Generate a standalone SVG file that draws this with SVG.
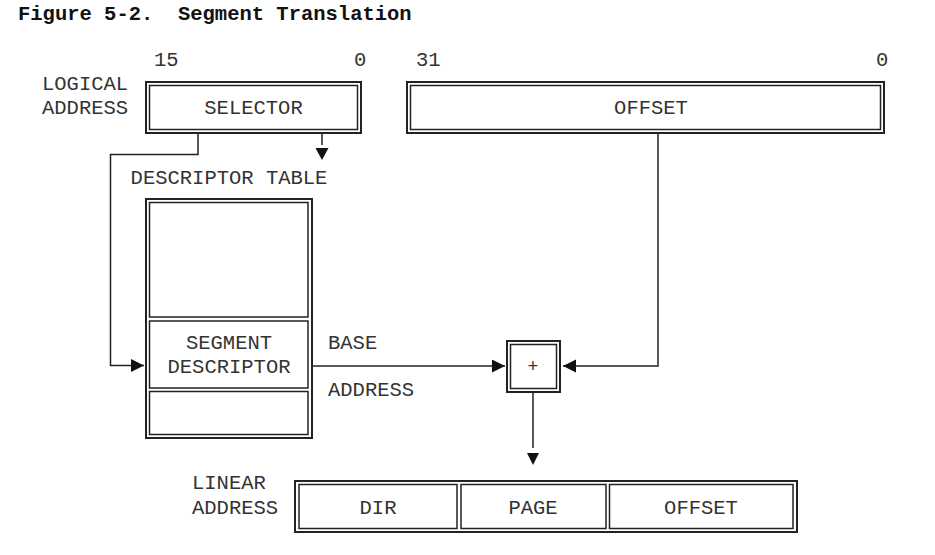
<svg xmlns="http://www.w3.org/2000/svg" width="935" height="555" viewBox="0 0 935 555">
<style>
text{font-family:"Liberation Mono","Courier New",monospace;font-size:20.5px;fill:#333}
.title{font-weight:bold;fill:#111;white-space:pre}
.c{text-anchor:middle}
.o{fill:#fff;stroke:#222;stroke-width:2}
.i{fill:none;stroke:#222;stroke-width:1.5}
.ln{fill:none;stroke:#222;stroke-width:1.5}
</style>
<defs>
<marker id="ah" markerUnits="userSpaceOnUse" markerWidth="14" markerHeight="14" refX="13" refY="6.5" orient="auto">
<path d="M0,0 L13,6.5 L0,13 Z" fill="#111"/>
</marker>
</defs>
<rect width="935" height="555" fill="#fff"/>
<text class="title" x="18" y="20" xml:space="preserve">Figure 5-2.  Segment Translation</text>

<g id="logical-label">
<text x="42" y="90">LOGICAL</text>
<text x="42" y="114">ADDRESS</text>
</g>
<g id="bits">
<text x="154" y="66">15</text>
<text x="354" y="66">0</text>
<text x="416" y="66">31</text>
<text x="876" y="66">0</text>
</g>
<g id="selector">
<rect class="o" x="146" y="82" width="215" height="51"/>
<rect class="i" x="149.5" y="85.5" width="208" height="44"/>
<text class="c" x="253.5" y="114">SELECTOR</text>
</g>
<g id="offset">
<rect class="o" x="407" y="82" width="477" height="51"/>
<rect class="i" x="410.5" y="85.5" width="470" height="44"/>
<text class="c" x="651" y="114">OFFSET</text>
</g>

<g id="descriptor-table">
<text class="c" x="229" y="184">DESCRIPTOR TABLE</text>
<rect class="o" x="146" y="199" width="166" height="239"/>
<rect class="i" x="149.5" y="202.5" width="158.5" height="114.5"/>
<rect class="i" x="149.5" y="321" width="158.5" height="67"/>
<rect class="i" x="149.5" y="391.5" width="158.5" height="43"/>
<text class="c" x="229" y="349">SEGMENT</text>
<text class="c" x="229" y="373">DESCRIPTOR</text>
</g>

<g id="adder">
<rect class="o" x="507" y="341" width="53" height="51"/>
<rect class="i" x="510.5" y="344.5" width="46" height="44"/>
<text class="c" x="533" y="372" style="font-size:18px">+</text>
</g>

<g id="linear-address">
<text x="192" y="489">LINEAR</text>
<text x="192" y="514">ADDRESS</text>
<rect class="o" x="295" y="481" width="502" height="51"/>
<rect class="i" x="299" y="484.5" width="158" height="44"/>
<rect class="i" x="461" y="484.5" width="145" height="44"/>
<rect class="i" x="609.5" y="484.5" width="183.5" height="44"/>
<text class="c" x="378" y="514">DIR</text>
<text class="c" x="533" y="514">PAGE</text>
<text class="c" x="701" y="514">OFFSET</text>
</g>

<g id="labels">
<text x="328" y="349">BASE</text>
<text x="328" y="396">ADDRESS</text>
</g>

<g id="connectors">
<path class="ln" d="M198,133 V154.5 H110.5 V365.5 H144" marker-end="url(#ah)"/>
<path class="ln" d="M322,133 V145"/>
<path d="M315.5,148 L328.5,148 L322,160 Z" fill="#111"/>
<path class="ln" d="M312,366 H505" marker-end="url(#ah)"/>
<path class="ln" d="M658,133 V366 H563" marker-end="url(#ah)"/>
<path class="ln" d="M533,392 V448"/>
<path d="M527,453 L539,453 L533,465 Z" fill="#111"/>
</g>
</svg>
